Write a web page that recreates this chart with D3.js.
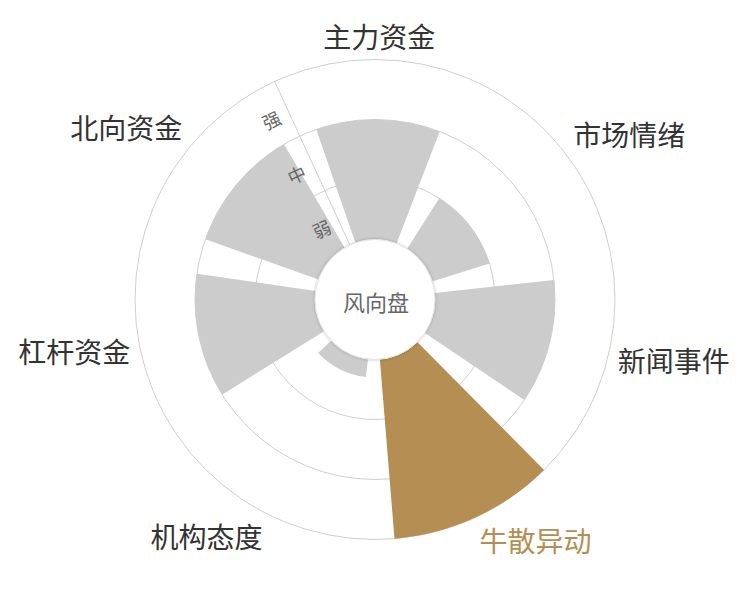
<!DOCTYPE html>
<html><head><meta charset="utf-8">
<script src="https://cdn.jsdelivr.net/npm/d3@7/dist/d3.min.js"></script>
<style>body{margin:0;background:#fff;} svg{display:block}</style>
</head><body><svg id="c" width="750" height="600"></svg>
<script>
// ---- data ----
const categories = ["主力资金","市场情绪","新闻事件","牛散异动","机构态度","杠杆资金","北向资金"];
const values = [2, 1, 2, 3, 0.3, 2, 2];
const levels = ["弱","中","强"];
const highlight = "牛散异动";
const centerLabel = "风向盘";

// ---- layout ----
const cx = 375, cy = 299.5, inner = 60, outer = 240;
const font = "'Noto Sans CJK SC','Noto Sans',sans-serif";
const gold = "#b48e52", gray = "#cccccc", grid = "#cfcfcf";
const deg = Math.PI/180;
const offset = 1*deg;
const step = 2*Math.PI/categories.length;

const angle = d3.scaleBand().domain(categories)
  .range([offset - step/2, offset - step/2 + 2*Math.PI])
  .paddingInner(0.22).paddingOuter(0.11);
const r = d3.scaleLinear().domain([0, levels.length]).range([inner, outer]);
const rBand = d3.scaleBand().domain(levels).range([inner, outer]);

const svg = d3.select("#c");
const defs = svg.append("defs");
const f = defs.append("filter").attr("id","sh").attr("x","-20%").attr("y","-20%").attr("width","140%").attr("height","140%");
f.append("feDropShadow").attr("dx",0).attr("dy",0).attr("stdDeviation",1.5).attr("flood-color","#000").attr("flood-opacity",0.25);

const g = svg.append("g").attr("transform",`translate(${cx},${cy})`);

// grid circles
g.selectAll("circle.grid").data(d3.range(1, levels.length+1)).join("circle")
  .attr("class","grid").attr("r", d => r(d))
  .attr("fill","none").attr("stroke",grid).attr("stroke-width",1);

// radial axis line
const axisA = offset - step/2;
g.append("line")
  .attr("x1", inner*Math.sin(axisA)).attr("y1", -inner*Math.cos(axisA))
  .attr("x2", outer*Math.sin(axisA)).attr("y2", -outer*Math.cos(axisA))
  .attr("stroke",grid).attr("stroke-width",1);

// bars
const arc = d3.arc();
g.selectAll("path.bar").data(categories.map((c,i)=>({c, v: values[i]}))).join("path")
  .attr("class","bar")
  .attr("d", d => arc({innerRadius: inner, outerRadius: r(d.v),
      startAngle: angle(d.c), endAngle: angle(d.c) + angle.bandwidth()}))
  .attr("fill", d => d.c === highlight ? gold : gray);

// center circle
g.append("circle").attr("r", inner).attr("fill","#fff").attr("stroke","#e2e2e2").attr("stroke-width",1).attr("filter","url(#sh)");
g.append("text").text(centerLabel).attr("x",1).attr("y",1)
  .attr("text-anchor","middle").attr("dominant-baseline","central")
  .attr("font-family",font).attr("font-size",22).attr("fill","#666");

// radial level labels
g.selectAll("text.lvl").data(levels).join("text").attr("class","lvl")
  .attr("transform", d => {
    const rr = rBand(d) + rBand.bandwidth()/2 - 3;
    return `translate(${rr*Math.sin(axisA)},${-rr*Math.cos(axisA)}) rotate(${axisA/deg})`;
  })
  .attr("x",-10).attr("text-anchor","end").attr("dominant-baseline","central")
  .attr("font-family",font).attr("font-size",18).attr("fill","#666").text(d=>d);

// angle labels
const R = 250;
g.selectAll("text.cat").data(categories).join("text").attr("class","cat")
  .each(function(c){
    const a = angle(c) + angle.bandwidth()/2;
    const s = Math.sin(a), co = Math.cos(a);
    const x = R*s, y = -R*co;
    const anchor = Math.abs(s) < 0.3 ? "middle" : (s > 0 ? "start" : "end");
    let dy;
    if (Math.abs(co) < 0.3) dy = "0.45em";
    else if (co > 0) dy = "-0.05em";
    else dy = "0.9em";
    d3.select(this).attr("x",x).attr("y",y).attr("dy",dy).attr("text-anchor",anchor);
  })
  .attr("font-family",font).attr("font-size",28)
  .attr("fill", c => c === highlight ? gold : "#333").text(c=>c);
</script></body></html>
